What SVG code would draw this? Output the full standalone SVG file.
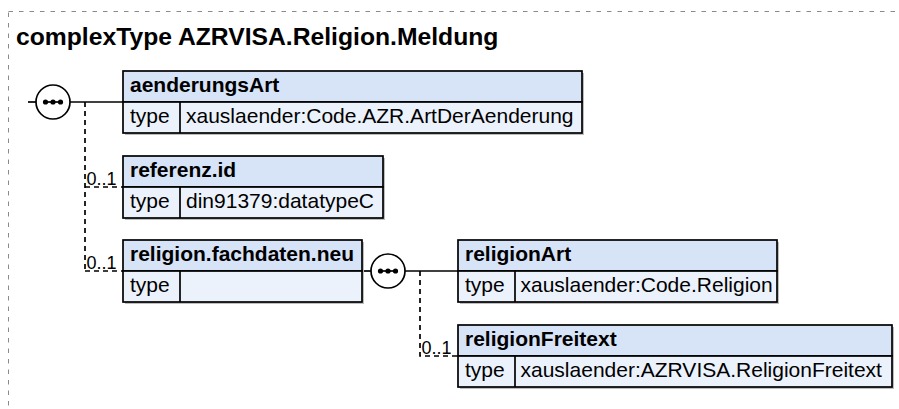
<svg xmlns="http://www.w3.org/2000/svg" width="899" height="409" viewBox="0 0 899 409">
  <style>
    .frame { fill: none; stroke: #8a8a8a; stroke-width: 1; stroke-dasharray: 4.5 6; }
    .title { font-family: "Liberation Sans", Arial, sans-serif; font-size: 24.7px; font-weight: bold; fill: #000; }
    .shadow { fill: #bdbdbd; }
    .hdr { fill: #d7e3f7; stroke: #000; stroke-width: 1.7; }
    .row { fill: #ecf2fc; stroke: #000; stroke-width: 1.7; }
    .sep { stroke: #000; stroke-width: 1.7; }
    .name { font-family: "Liberation Sans", Arial, sans-serif; font-size: 21px; font-weight: bold; fill: #000; }
    .txt { font-family: "Liberation Sans", Arial, sans-serif; font-size: 21px; fill: #000; }
    .card { font-family: "Liberation Sans", Arial, sans-serif; font-size: 18px; fill: #000; }
    .line { fill: none; stroke: #000; stroke-width: 1.7; }
    .dash { fill: none; stroke: #000; stroke-width: 1.7; stroke-dasharray: 5 4; }
    .comp { fill: #fff; stroke: #000; stroke-width: 1.7; }
    .dot { fill: #000; }
  </style>
  <defs>
    <g id="seq">
      <circle class="comp" cx="0" cy="0" r="17"/>
      <line class="line" x1="-10" y1="0" x2="10" y2="0"/>
      <circle class="dot" cx="-7.5" cy="0" r="2.6"/>
      <circle class="dot" cx="0" cy="0" r="2.6"/>
      <circle class="dot" cx="7.5" cy="0" r="2.6"/>
    </g>
  </defs>

  <rect class="frame" x="8.5" y="11.5" width="900" height="410"/>
  <text class="title" x="16" y="45">complexType AZRVISA.Religion.Meldung</text>

  <g id="connectors">
    <line class="line" x1="28" y1="102" x2="36" y2="102"/>
    <line class="line" x1="70" y1="102" x2="123" y2="102"/>
    <path class="dash" d="M85,102 V271"/>
    <path class="dash" d="M85,187 H123"/>
    <path class="dash" d="M85,271 H123"/>
    <line class="line" x1="362" y1="271" x2="371" y2="271"/>
    <line class="line" x1="405" y1="271" x2="458" y2="271"/>
    <path class="dash" d="M420,271 V356 H458"/>
    <text class="card" x="86.5" y="185">0..1</text>
    <text class="card" x="86.5" y="269">0..1</text>
    <text class="card" x="421.5" y="354">0..1</text>
  </g>

  <g id="seq1"><use href="#seq" x="53" y="102"/></g>
  <g id="seq2"><use href="#seq" x="388" y="271"/></g>

  <g id="node-aenderungsArt">
    <rect class="shadow" x="125" y="73" width="459" height="62"/>
    <rect class="hdr" x="123" y="71" width="459" height="31"/>
    <rect class="row" x="123" y="102" width="459" height="31"/>
    <line class="sep" x1="180" y1="102" x2="180" y2="133"/>
    <text class="name" x="130" y="92">aenderungsArt</text>
    <text class="txt" x="130" y="123">type</text>
    <text class="txt" x="186" y="123">xauslaender:Code.AZR.ArtDerAenderung</text>
  </g>

  <g id="node-referenz.id">
    <rect class="shadow" x="125" y="158" width="260" height="62"/>
    <rect class="hdr" x="123" y="156" width="260" height="31"/>
    <rect class="row" x="123" y="187" width="260" height="31"/>
    <line class="sep" x1="180" y1="187" x2="180" y2="218"/>
    <text class="name" x="130" y="177">referenz.id</text>
    <text class="txt" x="130" y="208">type</text>
    <text class="txt" x="186" y="208">din91379:datatypeC</text>
  </g>

  <g id="node-religion.fachdaten.neu">
    <rect class="shadow" x="125" y="242" width="239" height="62"/>
    <rect class="hdr" x="123" y="240" width="239" height="31"/>
    <rect class="row" x="123" y="271" width="239" height="31"/>
    <line class="sep" x1="180" y1="271" x2="180" y2="302"/>
    <text class="name" x="130" y="261">religion.fachdaten.neu</text>
    <text class="txt" x="130" y="292">type</text>
  </g>

  <g id="node-religionArt">
    <rect class="shadow" x="460" y="242" width="319" height="62"/>
    <rect class="hdr" x="458" y="240" width="319" height="31"/>
    <rect class="row" x="458" y="271" width="319" height="31"/>
    <line class="sep" x1="515" y1="271" x2="515" y2="302"/>
    <text class="name" x="465" y="261">religionArt</text>
    <text class="txt" x="465" y="292">type</text>
    <text class="txt" x="520.5" y="292">xauslaender:Code.Religion</text>
  </g>

  <g id="node-religionFreitext">
    <rect class="shadow" x="460" y="327" width="434" height="62"/>
    <rect class="hdr" x="458" y="325" width="434" height="31"/>
    <rect class="row" x="458" y="356" width="434" height="31"/>
    <line class="sep" x1="515" y1="356" x2="515" y2="387"/>
    <text class="name" x="465" y="346">religionFreitext</text>
    <text class="txt" x="465" y="377">type</text>
    <text class="txt" x="520.5" y="377">xauslaender:AZRVISA.ReligionFreitext</text>
  </g>
</svg>
